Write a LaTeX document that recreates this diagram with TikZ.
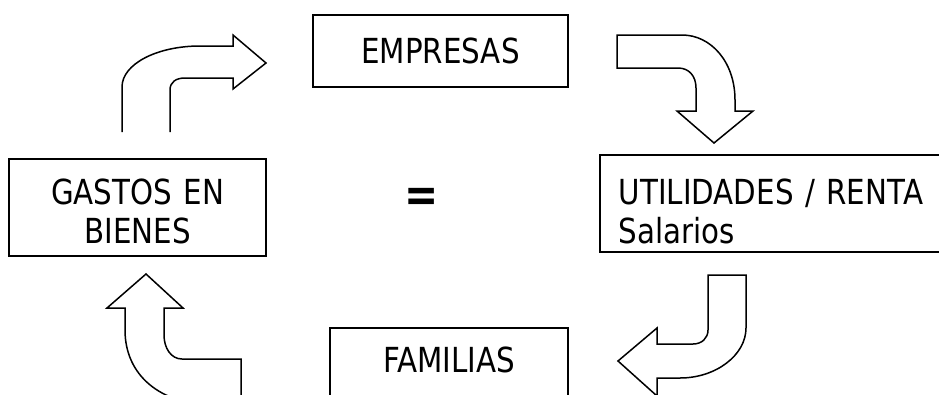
\documentclass[tikz,border=0pt]{standalone}
\usepackage{fontspec}
\setmainfont{DejaVu Sans}[FakeStretch=0.85]

\begin{document}
\begin{tikzpicture}[x=1pt, y=-1pt]
    \tikzstyle{caja} = [rectangle, draw=black, line width=1.5pt, font=\fontsize{34.5}{39}\selectfont, inner sep=0pt]
    \tikzstyle{flecha} = [draw=black, line width=1.5pt, line join=miter]

    \useasboundingbox (0,0) rectangle (939,394);
    \clip (0,0) rectangle (939,394);

            % node[Optionen](Name){Inhalt}
            \node (Empresas) [caja, minimum width=255pt, minimum height=72pt] at (440.5,51) {EMPRESAS};
            \node (Gastos_Bienes) [caja, minimum width=257pt, minimum height=97pt, text width=257pt, align=center, text height=25pt, text depth=31pt] at (137.5,207.5) {GASTOS EN\\BIENES};
            \node (Utilidades_Renta) [caja, anchor=west, minimum width=400pt, minimum height=97pt, text width=362pt, align=left, text height=25pt, text depth=23pt] at (599,203.5) {UTILIDADES / RENTA\\Salarios};
            \node (Familias) [caja, minimum width=238pt, minimum height=72pt, text height=25pt, text depth=8pt] at (449,364) {FAMILIAS};

            \node (Igual) [font=\bfseries\fontsize{48}{48}\selectfont] at (422,200) {=};

            % ----- ----- ----- ----- ----- ----- ----- ----- ----- ----- ----- ----- ----- ----- ----- ----- ----- ----- -----

            % Gastos -> Empresas
            \draw [flecha] (122,132) -- (122,87) .. controls (122,64) and (157,46) .. (200,46) -- (233,46) -- (233,35) -- (266,63) -- (233,89) -- (233,78) -- (185,78) .. controls (176,78) and (170,82) .. (170,90) -- (170,132);
            % Empresas -> Utilidades
            \draw [flecha] (617,35) -- (682,35) .. controls (711,35) and (735,62) .. (735,100) -- (735,111) -- (753,111) -- (714,143) -- (677,111) -- (696,111) -- (696,88) .. controls (696,76) and (689,68) .. (678,68) -- (617,68) -- cycle;
            % Utilidades -> Familias
            \draw [flecha] (708,275) -- (746,275) -- (746,328) .. controls (746,355) and (716,378) .. (680,378) -- (657,378) -- (657,396) -- (618,361) -- (657,328) -- (657,344) -- (693,344) .. controls (702,344) and (708,338) .. (708,330) -- cycle;
            % Familias -> Gastos
            \draw [flecha] (241,398) -- (241,359) -- (182,359) .. controls (171,359) and (164,348) .. (164,335) -- (164,308) -- (183,308) -- (146,274) -- (107,308) -- (125,308) -- (125,330) .. controls (125,375) and (160,405) .. (215,405);
\end{tikzpicture}
\end{document}
